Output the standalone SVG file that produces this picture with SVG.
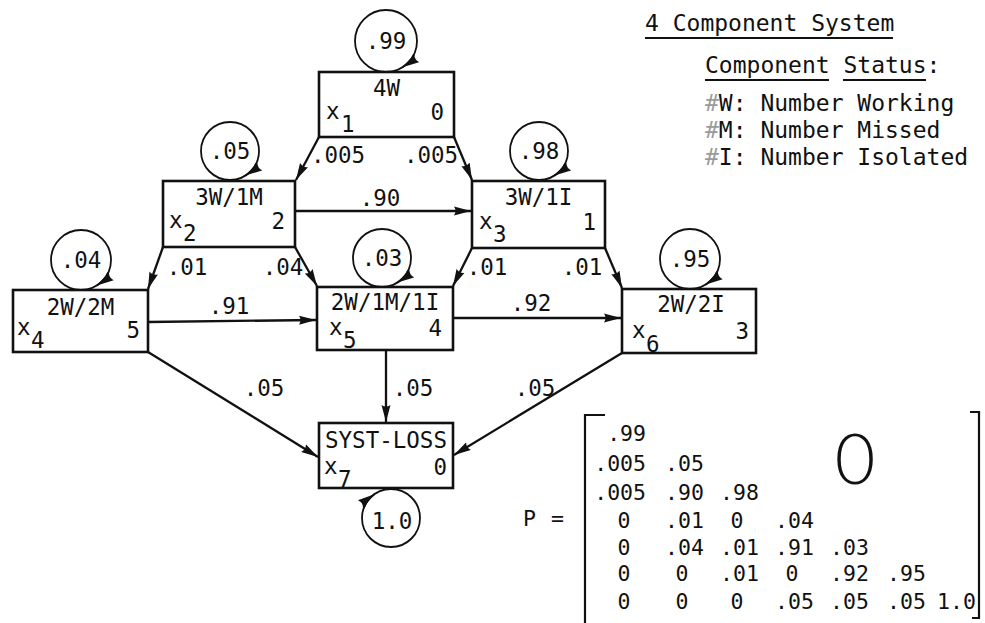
<svg xmlns="http://www.w3.org/2000/svg" width="985" height="623" viewBox="0 0 985 623">
  <style>
    text { font-family: "DejaVu Sans Mono", "Liberation Mono", monospace; font-size: 22.5px; fill: #111; }
    .t { text-anchor: middle; }
    .r { text-anchor: end; }
    .lg { font-size: 23px; }
    .hash { fill: #9a9a9a; }
    .mx { font-size: 21.5px; }
    .zero { font-family: Lato, "DejaVu Sans", sans-serif; font-size: 70px; font-weight: 300; text-anchor: middle; }
    .box { fill: #fff; stroke: #111; stroke-width: 2.6; }
    .loop { fill: none; stroke: #111; stroke-width: 1.8; }
    .loopArc { fill: none; stroke: #111; stroke-width: 1.8; marker-end: url(#ah); }
    .edge { fill: none; stroke: #111; stroke-width: 2.3; marker-end: url(#ah); }
    .rule { stroke: #111; stroke-width: 1.8; }
    .bracket { fill: none; stroke: #111; stroke-width: 2.2; }
  </style>
  <defs>
    <marker id="ah" markerUnits="userSpaceOnUse" markerWidth="18" markerHeight="11" refX="17" refY="5.5" orient="auto">
      <path d="M0,1 L17,5.5 L0,10 Q3,5.5 0,1 Z" fill="#111"/>
    </marker>
  </defs>

  <!-- transitions between states -->
  <g id="connectors">
    <path class="edge" d="M319,137 L296,180"/>
    <path class="edge" d="M454,137 L472,180"/>
    <path class="edge" d="M296,211 L471,211"/>
    <path class="edge" d="M163,247 L148,289"/>
    <path class="edge" d="M295,247 L317,286"/>
    <path class="edge" d="M472,248 L453,286"/>
    <path class="edge" d="M605,248 L622,288"/>
    <path class="edge" d="M148,322 L316,320"/>
    <path class="edge" d="M453,318 L621,318"/>
    <path class="edge" d="M148,352 L318,457"/>
    <path class="edge" d="M386,350 L386,422"/>
    <path class="edge" d="M622,353 L454,455"/>
    <text x="338" y="163" class="t">.005</text>
    <text x="431" y="163" class="t">.005</text>
    <text x="380" y="206" class="t">.90</text>
    <text x="187" y="275" class="t">.01</text>
    <text x="283" y="275" class="t">.04</text>
    <text x="487" y="275" class="t">.01</text>
    <text x="582" y="275" class="t">.01</text>
    <text x="229" y="314" class="t">.91</text>
    <text x="531" y="311" class="t">.92</text>
    <text x="264" y="396" class="t">.05</text>
    <text x="413" y="396" class="t">.05</text>
    <text x="535" y="396" class="t">.05</text>
  </g>

  <!-- states with their self-transition loops -->
  <g id="node-x1">
    <circle class="loop" cx="386" cy="41" r="31"/>
    <path class="loopArc" d="M414.1,54.1 A31,31 0 0 1 402.4,67.3"/>
    <text x="386" y="49" class="t">.99</text>
    <rect class="box" x="319" y="72" width="135" height="65"/>
    <text x="386.5" y="96" class="t">4W</text>
    <text x="326" y="119">x</text>
    <text x="341" y="132">1</text>
    <text x="444" y="120" class="r">0</text>
  </g>

  <g id="node-x2">
    <circle class="loop" cx="230" cy="151" r="29"/>
    <path class="loopArc" d="M256.3,163.3 A29,29 0 0 1 245.4,175.6"/>
    <text x="230" y="159" class="t">.05</text>
    <rect class="box" x="163" y="181" width="132" height="66"/>
    <text x="229" y="205" class="t">3W/1M</text>
    <text x="169" y="228">x</text>
    <text x="183" y="241">2</text>
    <text x="285" y="229" class="r">2</text>
  </g>

  <g id="node-x3">
    <circle class="loop" cx="539" cy="151" r="29"/>
    <path class="loopArc" d="M565.3,163.3 A29,29 0 0 1 554.4,175.6"/>
    <text x="539" y="159" class="t">.98</text>
    <rect class="box" x="472" y="181" width="133" height="67"/>
    <text x="538.5" y="205" class="t">3W/1I</text>
    <text x="479" y="229">x</text>
    <text x="493" y="242">3</text>
    <text x="596" y="230" class="r">1</text>
  </g>

  <g id="node-x4">
    <circle class="loop" cx="81" cy="260" r="30"/>
    <path class="loopArc" d="M108.2,272.7 A30,30 0 0 1 96.9,285.4"/>
    <text x="81" y="268" class="t">.04</text>
    <rect class="box" x="13" y="290" width="135" height="62"/>
    <text x="80.5" y="315" class="t">2W/2M</text>
    <text x="17" y="335">x</text>
    <text x="31" y="348">4</text>
    <text x="140" y="338" class="r">5</text>
  </g>

  <g id="node-x5">
    <circle class="loop" cx="382" cy="258" r="29"/>
    <path class="loopArc" d="M408.3,270.3 A29,29 0 0 1 397.4,282.6"/>
    <text x="382" y="266" class="t">.03</text>
    <rect class="box" x="317" y="287" width="136" height="63"/>
    <text x="385" y="310" class="t">2W/1M/1I</text>
    <text x="329" y="335">x</text>
    <text x="343" y="348">5</text>
    <text x="442" y="336" class="r">4</text>
  </g>

  <g id="node-x6">
    <circle class="loop" cx="690" cy="259" r="30"/>
    <path class="loopArc" d="M717.2,271.7 A30,30 0 0 1 705.9,284.4"/>
    <text x="690" y="267" class="t">.95</text>
    <rect class="box" x="622" y="289" width="134" height="64"/>
    <text x="691" y="312" class="t">2W/2I</text>
    <text x="632" y="338">x</text>
    <text x="646" y="352">6</text>
    <text x="749" y="339" class="r">3</text>
  </g>

  <g id="node-x7">
    <circle class="loop" cx="391" cy="518" r="29"/>
    <path class="loopArc" d="M363.75,508.1 A29,29 0 0 1 374.4,494.2"/>
    <text x="392" y="529" class="t">1.0</text>
    <rect class="box" x="319" y="423" width="134" height="65"/>
    <text x="386" y="448" class="t">SYST-LOSS</text>
    <text x="324" y="474">x</text>
    <text x="338" y="487">7</text>
    <text x="447" y="475" class="r">0</text>
  </g>

  <!-- legend -->
  <g id="legend">
    <text class="lg" x="645" y="31">4 Component System</text>
    <line class="rule" x1="645" y1="38" x2="893" y2="38"/>
    <text class="lg" x="705" y="73">Component Status:</text>
    <line class="rule" x1="705" y1="80" x2="829" y2="80"/>
    <line class="rule" x1="843" y1="80" x2="926" y2="80"/>
    <text class="lg" x="705" y="111"><tspan class="hash">#</tspan>W: Number Working</text>
    <text class="lg" x="705" y="138"><tspan class="hash">#</tspan>M: Number Missed</text>
    <text class="lg" x="705" y="165"><tspan class="hash">#</tspan>I: Number Isolated</text>
  </g>

  <!-- transition matrix -->
  <g id="matrix">
    <text class="mx" x="523" y="526">P</text>
    <text class="mx" x="551" y="526">=</text>
    <path class="bracket" d="M605,415 L585,415 L585,623"/>
    <path class="bracket" d="M970,412 L979,412 L979,618 L972,618"/>
    <text class="zero" x="855" y="484">0</text>
    <text class="mx r" x="646" y="441">.99</text>
    <text class="mx r" x="646" y="471">.005</text><text class="mx" x="665" y="471">.05</text>
    <text class="mx r" x="646" y="500">.005</text><text class="mx" x="665" y="500">.90</text><text class="mx" x="720" y="500">.98</text>
    <text class="mx t" x="624" y="528">0</text><text class="mx" x="665" y="528">.01</text><text class="mx t" x="737" y="528">0</text><text class="mx" x="775" y="528">.04</text>
    <text class="mx t" x="624" y="555">0</text><text class="mx" x="665" y="555">.04</text><text class="mx" x="720" y="555">.01</text><text class="mx" x="775" y="555">.91</text><text class="mx" x="830" y="555">.03</text>
    <text class="mx t" x="624" y="581">0</text><text class="mx t" x="682" y="581">0</text><text class="mx" x="720" y="581">.01</text><text class="mx t" x="792" y="581">0</text><text class="mx" x="830" y="581">.92</text><text class="mx" x="887" y="581">.95</text>
    <text class="mx t" x="624" y="609">0</text><text class="mx t" x="682" y="609">0</text><text class="mx t" x="737" y="609">0</text><text class="mx" x="775" y="609">.05</text><text class="mx" x="830" y="609">.05</text><text class="mx" x="887" y="609">.05</text><text class="mx" x="937" y="609">1.0</text>
  </g>
</svg>
